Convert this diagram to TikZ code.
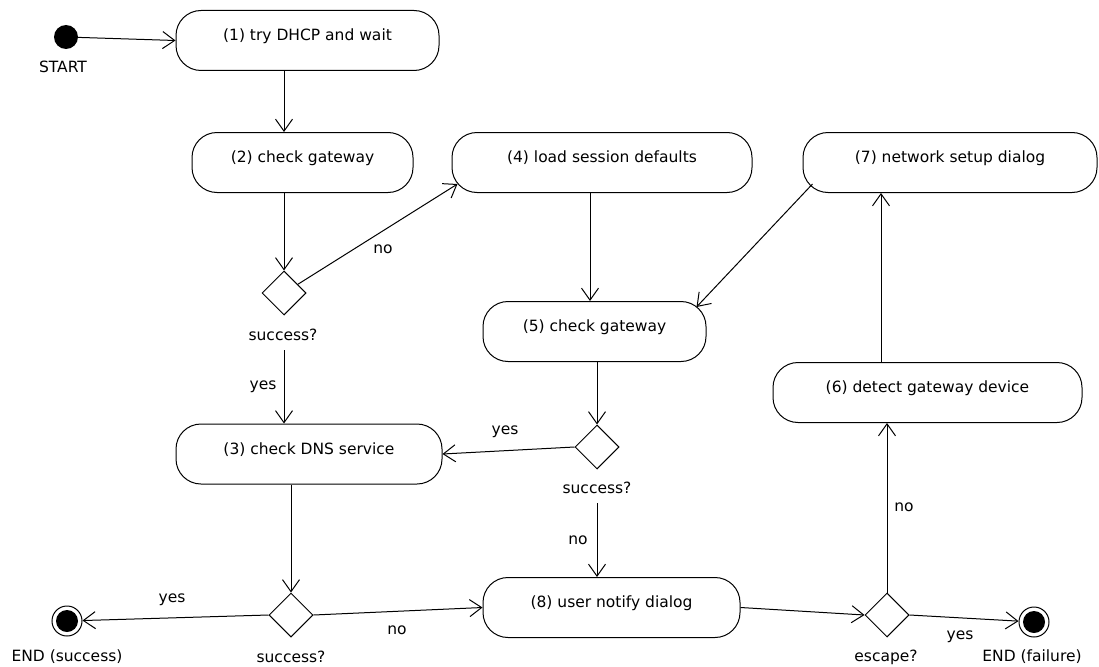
\documentclass[tikz,border=0pt]{standalone}
\usepackage{fontspec}
\setmainfont{DejaVu Sans}
\usetikzlibrary{shapes.geometric,arrows.meta}
\tikzset{act/.style={draw, rectangle, rounded corners=25pt, inner ysep=0pt, text height=30pt, text depth=30pt, line width=1pt}}
\tikzset{dec/.style={draw, diamond, minimum size=44pt, inner sep=0pt, line width=1pt}}
\tikzset{ini/.style={circle, fill=black, minimum size=24pt, inner sep=0pt}}
\tikzset{fin/.style={circle, draw, minimum size=30pt, inner sep=0pt, line width=1pt,
  path picture={\fill[black] (path picture bounding box.center) circle (11pt);}}}
\tikzset{arr/.style={-{Straight Barb[length=12pt,width=17pt]}, line width=1pt}}
\begin{document}
\begin{tikzpicture}[x=1pt, y=-1pt]
\tikzstyle{every node}=[font=\fontsize{15.5}{18}\selectfont]
\useasboundingbox (0,0) rectangle (1099,666);
\node[ini] (st) at (66,37) {};
\node (stl) at (63,67) {START};
\node[act, minimum width=263pt] (a1) at (307.5,40.5) {(1) try DHCP and wait};
\node[act, minimum width=221pt] (a2) at (302.5,162.5) {(2) check gateway};
\node[act, minimum width=300pt] (a4) at (602,162.5) {(4) load session defaults};
\node[act, minimum width=294pt] (a7) at (950,162.5) {(7) network setup dialog};
\node[act, minimum width=223pt] (a5) at (594.5,331.5) {(5) check gateway};
\node[act, minimum width=309pt] (a6) at (927.5,392.5) {(6) detect gateway device};
\node[act, minimum width=266pt] (a3) at (309,454) {(3) check DNS service};
\node[act, minimum width=257pt] (a8) at (611.5,607.5) {(8) user notify dialog};
\node[dec] (d1) at (284,293) {};
\node[dec] (d2) at (597,447) {};
\node[dec] (d3) at (291,615) {};
\node[dec] (d4) at (887,615) {};
\node (s1) at (283,335) {success?};
\node (s2) at (597,488) {success?};
\node (s3) at (291,657) {success?};
\node (s4) at (886,657) {escape?};
\node[fin] (e1) at (67,621) {};
\node[fin] (e2) at (1034,622) {};
\node (el1) at (67,657) {END (success)};
\node (el2) at (1032,657) {END (failure)};
\node (n1) at (383,249) {no};
\node (y1) at (263,387) {yes};
\node (y2) at (505,432) {yes};
\node (n2) at (578,540) {no};
\node (y3) at (172,600) {yes};
\node (n3) at (397,630) {no};
\node (y4) at (960,637) {yes};
\node (n4) at (904,507) {no};
\coordinate (c5) at (590,0);
\coordinate (c6) at (881,0);
\draw[arr] (st) -- (a1.west);
\draw[arr] (a1.south -| d1) -- (a2.north -| d1);
\draw[arr] (a2.south -| d1) -- (d1.north);
\draw[arr] (d1) -- ([shift={(6pt,9pt)}]a4.south west);
\draw[arr, shorten <=6pt] (s1.south -| d1) -- (a3.north -| d1);
\draw[arr] (a4.south -| c5) -- (a5.north -| c5);
\draw[arr] ([shift={(10pt,9pt)}]a7.south west) -- ([shift={(-10pt,-6pt)}]a5.north east);
\draw[arr] (a5.south -| d2) -- (d2.north);
\draw[arr] (d2.west) -- (a3.east);
\draw[arr, shorten <=6pt] (s2.south) -- (a8.north -| d2);
\draw[arr] (a3.south -| d3) -- (d3.north);
\draw[arr] (d3.west) -- (e1);
\draw[arr] (d3.east) -- (a8.west);
\draw[arr] (a8.east) -- (d4.west);
\draw[arr] (d4.east) -- (e2);
\draw[arr] (d4.north) -- (a6.south -| d4);
\draw[arr] (a6.north -| c6) -- (a7.south -| c6);
\end{tikzpicture}
\end{document}
